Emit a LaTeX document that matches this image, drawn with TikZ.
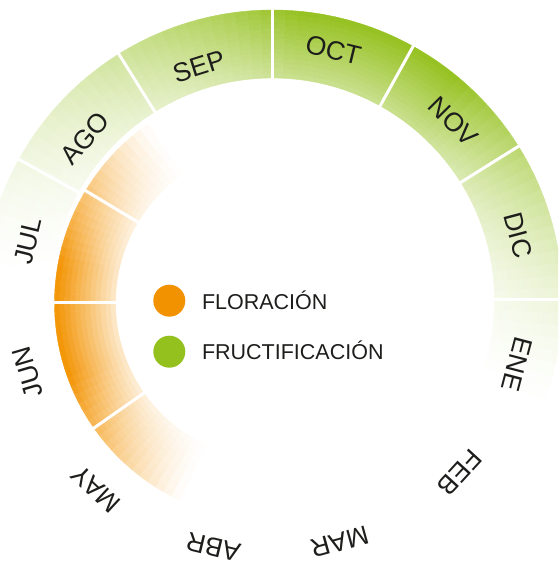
\documentclass[tikz,border=0pt]{standalone}
\usepackage{fontspec}
\setmainfont{Liberation Sans}
\definecolor{fgreen}{HTML}{95C11F}
\definecolor{forange}{HTML}{F39200}
\definecolor{txt}{HTML}{1D1D1B}
\begin{document}
\begin{tikzpicture}[x=1pt,y=1pt,
  month/.style={font=\fontsize{26.5}{26.5}\selectfont, text=txt, inner sep=0pt},
  legendtext/.style={font=\fontsize{21.5}{21.5}\selectfont, text=txt, inner sep=0pt, anchor=base west},
  legenddot/.style={circle, minimum size=32pt, inner sep=0pt},
  sepline/.style={draw=white, line width=3pt},
]
\useasboundingbox (0,0) rectangle (558,564);
\clip (0,0) rectangle (558,564);

% green ring (fructificacion)
\begin{scope}[shift={(272.5,264)}]
\foreach \i in {0,...,95}{
  \pgfmathsetmacro\aa{-45+2.5*\i}
  \pgfmathsetmacro\ab{\aa+2.5}
  \pgfmathsetmacro\am{\aa+1.25}
  \pgfmathsetmacro\uR{max(0.001,min(1,(\am+22)/72))}
  \pgfmathsetmacro\uL{max(0.001,min(1,(175-\am)/90))}
  \pgfmathsetmacro\A{min(\uR^1.5,\uL^1.5)}
  \foreach \j in {0,...,13}{
    \pgfmathsetmacro\ra{222+68/14*\j}
    \pgfmathsetmacro\rb{\ra+68/14}
    \pgfmathsetmacro\p{round(1000*\A*(0.5+0.5/14*(\j+0.5)))/10}
    \fill[fill=fgreen!\p!white, draw=fgreen!\p!white, line width=0.4pt]
      (\aa:\ra) arc[start angle=\aa,end angle=\ab,radius=\ra]
      -- (\ab:\rb) arc[start angle=\ab,end angle=\aa,radius=\rb] -- cycle;
  }
}
\foreach \t in {0,32,61,90,122,151}
  \draw[sepline] (\t:220) -- (\t:292);
\end{scope}

% orange ring (floracion)
\begin{scope}[shift={(272.5,261)}]
\foreach \i in {0,...,55}{
  \pgfmathsetmacro\aa{115+2.5*\i}
  \pgfmathsetmacro\ab{\aa+2.5}
  \pgfmathsetmacro\am{\aa+1.25}
  \pgfmathsetmacro\A{max(0,min(1,(60-abs(\am-185))/45))}
  \foreach \j in {0,...,11}{
    \pgfmathsetmacro\ra{157+61/12*\j}
    \pgfmathsetmacro\rb{\ra+61/12}
    \pgfmathsetmacro\p{round(1000*\A*(0.2+0.8/12*(\j+0.5)))/10}
    \fill[fill=forange!\p!white, draw=forange!\p!white, line width=0.4pt]
      (\aa:\ra) arc[start angle=\aa,end angle=\ab,radius=\ra]
      -- (\ab:\rb) arc[start angle=\ab,end angle=\aa,radius=\rb] -- cycle;
  }
}
\foreach \t in {149,180,215}
  \draw[sepline] (\t:155) -- (\t:220);
\end{scope}

% legend
\node[legenddot, fill=forange] (dotflo) at (169.3,263.3) {};
\node[legenddot, fill=fgreen] (dotfru) at (169.3,212.3) {};
\node[legendtext] (txtflo) at (201.8,254.7) {FLORACIÓN};
\node[legendtext] (txtfru) at (201.8,204) {FRUCTIFICACIÓN};

% month labels
\begin{scope}[shift={(272.5,264)}]
\node[month, rotate=-13.7] (moct) at (76.3:257) {OCT};
\node[month, rotate=-45.4] (mnov) at (44.6:254) {NOV};
\node[month, rotate=-75.2] (mdic) at (14.8:254) {DIC};
\node[month, rotate=-104.7] (mene) at (-14.7:252.7) {ENE};
\node[month, rotate=-132.6] (mfeb) at (-42.6:254.8) {FEB};
\node[month, rotate=-164.5] (mmar) at (-74.5:251) {MAR};
\node[month, rotate=-193.5] (mabr) at (-103.5:254) {ABR};
\node[month, rotate=-223] (mmay) at (-133:258.6) {MAY};
\node[month, rotate=-253.6] (mjun) at (-163.6:255) {JUN};
\node[month, rotate=76.4] (mjul) at (166.4:251.5) {JUL};
\node[month, rotate=49.2] (mago) at (139.2:247.6) {AGO};
\node[month, rotate=17.5] (msep) at (107.5:245) {SEP};
\end{scope}
\end{tikzpicture}
\end{document}
